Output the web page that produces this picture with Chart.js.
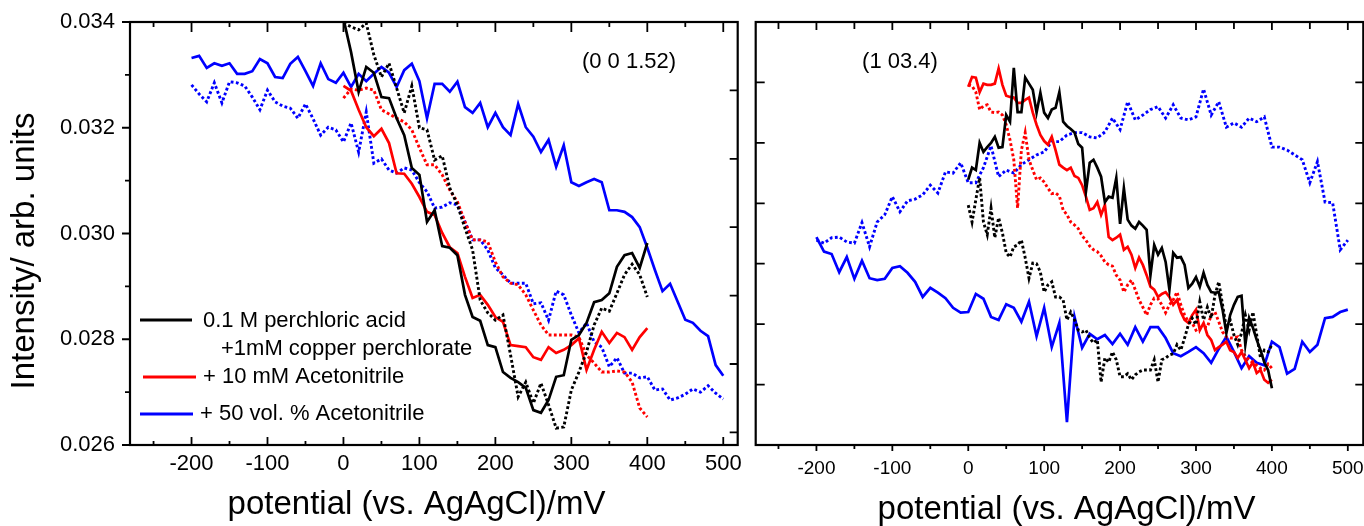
<!DOCTYPE html>
<html>
<head>
<meta charset="utf-8">
<script src="https://cdn.jsdelivr.net/npm/chart.js@4.4.1/dist/chart.umd.min.js"></script>
<style>
html,body{margin:0;padding:0;background:#fff;}
#wrap{position:relative;width:1364px;height:526px;overflow:hidden;background:#fff;}
#wrap canvas{position:absolute;left:0;top:0;}
</style>
</head>
<body>
<div id="wrap">
<canvas id="cl" width="1364" height="526"></canvas>
<canvas id="cr" width="1364" height="526"></canvas>
</div>
<script>
// ---------- categories (potential, mV vs. Ag/AgCl) ----------
const potBlue = [-200,-190,-180,-170,-160,-150,-140,-130,-120,-110,-100,-90,-80,-70,-60,-50,-40,-30,-20,-10,0,10,20,30,40,50,60,70,80,90,100,110,120,130,140,150,160,170,180,190,200,210,220,230,240,250,260,270,280,290,300,310,320,330,340,350,360,370,380,390,400,410,420,430,440,450,460,470,480,490,500];
const potAcid10 = [0,10,20,30,40,50,60,70,80,90,100,110,120,130,140,150,160,170,180,190,200,210,220,230,240,250,260,270,280,290,300,310,320,330,340,350,360,370,380,390,400];
const potAcid5 = [0,5,10,15,20,25,30,35,40,45,50,55,60,65,70,75,80,85,90,95,100,105,110,115,120,125,130,135,140,145,150,155,160,165,170,175,180,185,190,195,200,205,210,215,220,225,230,235,240,245,250,255,260,265,270,275,280,285,290,295,300,305,310,315,320,325,330,335,340,345,350,355,360,365,370,375,380,385,390,395,400];

// ---------- left panel (0 0 1.52) ----------
const L_acidSolid = [0.03406,0.03343,0.03268,0.03315,0.03304,0.03258,0.03256,0.03218,0.03186,0.03124,0.03111,0.03022,0.03044,0.02976,0.02973,0.02959,0.02884,0.02842,0.02835,0.02789,0.02785,0.02738,0.02727,0.02719,0.02708,0.02666,0.02661,0.02685,0.02729,0.02732,0.02799,0.02808,0.02831,0.02870,0.02874,0.02887,0.02937,0.02959,0.02963,0.02935,0.02982];
const L_acidDot = [0.03398,0.03391,0.03385,0.03398,0.03338,0.03296,0.03322,0.03275,0.03228,0.03279,0.03200,0.03196,0.03139,0.03147,0.03086,0.03054,0.03010,0.02969,0.02874,0.02850,0.02836,0.02846,0.02770,0.02691,0.02719,0.02679,0.02717,0.02676,0.02632,0.02634,0.02704,0.02738,0.02776,0.02827,0.02859,0.02853,0.02887,0.02922,0.02942,0.02922,0.02880];
const L_mMSolid = [0.03279,0.03270,0.03234,0.03201,0.03184,0.03198,0.03171,0.03114,0.03113,0.03094,0.03069,0.03041,0.03035,0.03001,0.02974,0.02963,0.02918,0.02878,0.02884,0.02865,0.02842,0.02833,0.02789,0.02787,0.02785,0.02766,0.02761,0.02785,0.02774,0.02780,0.02789,0.02802,0.02742,0.02780,0.02814,0.02793,0.02812,0.02804,0.02780,0.02804,0.02821];
const L_mMDot = [0.03256,0.03273,0.03271,0.03275,0.03271,0.03234,0.03226,0.03218,0.03211,0.03196,0.03162,0.03130,0.03130,0.03111,0.03082,0.03060,0.03022,0.02988,0.02988,0.02984,0.02946,0.02918,0.02906,0.02903,0.02884,0.02855,0.02827,0.02808,0.02808,0.02808,0.02808,0.02804,0.02770,0.02755,0.02738,0.02738,0.02740,0.02738,0.02719,0.02670,0.02653];
const L_volSolid = [0.03332,0.03336,0.03313,0.03322,0.03317,0.03322,0.03302,0.03302,0.03307,0.03330,0.03322,0.03296,0.03294,0.03321,0.03334,0.03307,0.03279,0.03322,0.03292,0.03285,0.03304,0.03277,0.03302,0.03288,0.03302,0.03315,0.03304,0.03277,0.03309,0.03321,0.03288,0.03218,0.03283,0.03283,0.03268,0.03287,0.03239,0.03228,0.03247,0.03201,0.03228,0.03201,0.03186,0.03245,0.03201,0.03183,0.03154,0.03177,0.03126,0.03167,0.03097,0.03090,0.03097,0.03103,0.03097,0.03044,0.03044,0.03041,0.03031,0.03012,0.02973,0.02931,0.02891,0.02905,0.02871,0.02837,0.02831,0.02816,0.02806,0.02751,0.02731];
const L_volDot = [0.03281,0.03264,0.03249,0.03285,0.03247,0.03287,0.03285,0.03279,0.03258,0.03234,0.03271,0.03249,0.03241,0.03237,0.03218,0.03245,0.03217,0.03186,0.03201,0.03196,0.03173,0.03209,0.03154,0.03230,0.03133,0.03141,0.03120,0.03114,0.03124,0.03120,0.03096,0.03079,0.03048,0.03050,0.03058,0.03054,0.03022,0.02988,0.02988,0.02969,0.02935,0.02922,0.02906,0.02906,0.02906,0.02867,0.02869,0.02836,0.02891,0.02884,0.02846,0.02812,0.02831,0.02795,0.02785,0.02748,0.02765,0.02736,0.02736,0.02727,0.02729,0.02704,0.02706,0.02685,0.02689,0.02696,0.02706,0.02700,0.02712,0.02698,0.02687];

// ---------- right panel (1 0 3.4), arbitrary units ----------
const R_acidSolid = [4.39,4.59,4.55,5.00,4.85,4.93,5.00,5.10,4.92,4.93,5.46,5.35,6.24,5.51,5.51,6.08,5.98,5.88,5.50,5.83,5.50,5.41,5.55,5.58,5.84,5.35,5.28,5.23,5.17,4.98,4.92,4.19,4.67,4.72,4.59,4.44,4.02,4.11,4.09,4.42,3.66,4.25,3.73,3.63,3.58,3.69,3.63,3.56,2.81,3.31,3.15,3.26,3.03,2.57,3.18,3.10,3.11,2.98,2.60,2.67,2.78,2.62,2.85,2.65,2.53,2.52,2.53,2.24,1.85,2.15,2.32,2.45,2.47,1.66,2.10,1.94,1.74,1.57,1.37,1.24,0.94];
const R_acidDot = [3.97,3.69,4.06,4.42,3.69,3.48,3.92,3.43,3.76,3.51,3.18,3.11,3.28,3.31,3.39,3.10,2.76,3.01,3.00,2.86,2.53,2.65,2.70,2.45,2.45,2.40,2.07,2.20,2.07,1.90,1.87,1.90,1.77,1.69,1.74,1.04,1.44,1.37,1.54,1.41,1.13,1.13,1.18,1.08,1.16,1.21,1.24,1.24,1.24,1.41,1.04,1.41,1.44,1.49,1.51,1.66,1.57,1.77,1.99,2.10,1.99,2.37,2.07,2.28,2.10,2.48,2.70,2.32,1.94,2.07,1.82,1.66,1.85,2.15,1.90,2.20,1.82,1.44,1.57,1.54,1.66];
const R_mMSolid = [5.93,6.09,6.08,5.84,5.98,5.96,5.96,5.98,6.23,5.96,5.78,5.76,5.75,5.66,5.66,5.71,5.75,5.50,5.30,5.13,5.03,4.97,5.10,4.88,4.64,4.59,4.55,4.59,4.45,4.42,4.30,4.11,3.89,3.92,4.02,3.81,3.97,3.44,3.39,3.43,3.48,3.23,3.28,3.15,2.93,3.10,2.98,2.81,2.62,2.57,2.45,2.50,2.53,2.45,2.32,2.40,2.20,2.07,2.02,2.15,2.24,1.90,2.02,1.82,1.74,1.57,1.62,1.66,1.71,1.57,1.54,1.44,1.54,1.41,1.27,1.37,1.19,1.24,1.08,1.03,1.08];
const R_mMDot = [5.96,5.94,5.84,5.55,5.61,5.63,5.51,5.50,5.51,5.46,5.30,5.05,4.72,3.92,4.88,5.17,4.72,4.55,4.39,4.42,4.35,4.25,4.16,4.17,4.12,3.89,3.81,3.69,3.64,3.58,3.46,3.39,3.29,3.23,3.20,3.13,3.03,2.98,2.96,2.81,2.73,2.53,2.65,2.73,2.57,2.40,2.28,2.15,2.32,2.43,2.42,2.32,2.19,2.32,2.40,2.53,2.32,2.15,2.04,2.02,1.90,1.94,1.95,1.95,2.15,2.20,2.04,1.87,1.79,1.77,1.77,1.79,1.57,1.47,1.41,1.36,1.32,1.27,1.24,1.34,1.27];
const R_volSolid = [3.44,3.20,3.16,2.86,3.11,2.75,3.05,2.76,2.73,2.75,2.93,2.96,2.85,2.70,2.45,2.60,2.52,2.43,2.27,2.19,2.20,2.50,2.42,2.12,2.07,2.33,2.27,2.04,2.37,1.80,2.27,1.62,2.02,0.38,2.12,1.61,1.84,1.75,1.82,1.67,1.84,1.66,1.95,1.71,1.95,1.95,1.77,1.52,1.47,1.54,1.62,1.52,1.36,1.59,1.79,1.54,1.27,1.47,1.36,1.32,1.71,1.62,1.18,1.26,1.71,1.54,1.66,2.10,2.12,2.20,2.24];
const R_volDot = [3.39,3.34,3.43,3.44,3.36,3.34,3.68,3.28,3.69,3.81,4.11,3.86,4.04,4.07,4.14,4.30,4.17,4.52,4.50,4.67,4.34,4.34,4.59,4.95,4.44,4.55,4.50,4.64,4.72,4.80,4.85,5.02,5.02,5.13,5.17,5.17,5.10,5.08,5.18,5.41,5.22,5.68,5.38,5.46,5.55,5.60,5.41,5.63,5.41,5.38,5.43,5.89,5.46,5.68,5.26,5.33,5.26,5.41,5.35,5.43,4.93,4.93,4.88,4.80,4.72,4.34,4.69,4.02,4.01,3.23,3.39];

// ---------- ticks & texts ----------
const xMajor = [-200,-100,0,100,200,300,400,500];
const xMinor = [-250,-150,-50,50,150,250,350,450];
const yMajorL = [0.026,0.028,0.030,0.032,0.034];
const yMinorL = [0.027,0.029,0.031,0.033];
const sideTicks = [1,2,3,4,5,6];
const legendLabels = ['0.1 M perchloric acid','+1mM copper perchlorate','+ 10 mM Acetonitrile','+ 50 vol. % Acetonitrile'];
const xTitle = 'potential (vs. AgAgCl)/mV';
const yTitle = 'Intensity/ arb. units';
const panelLabels = ['(0 0 1.52)','(1 03.4)'];

const FONT = '"Liberation Sans", Arial, Helvetica, sans-serif';
Chart.defaults.font.family = FONT;
Chart.defaults.color = '#000';

const BLACK = '#000000', RED = '#ff0000', BLUE = '#0000ff';
function ds(label, xs, ys, color, dotted) {
  return {
    label: label,
    data: xs.map((x, i) => ({x: x, y: ys[i]})),
    borderColor: color,
    backgroundColor: color,
    borderWidth: dotted ? 2.9 : 2.7,
    borderDash: dotted ? [2.8, 2.4] : [],
    pointRadius: 0,
    pointHoverRadius: 0,
    fill: false,
    tension: 0
  };
}

function framePlugin(spec) {
  return {
    id: 'frame' + spec.name,
    afterDraw(chart) {
      const ctx = chart.ctx, a = chart.chartArea;
      ctx.save();
      ctx.strokeStyle = '#000';
      ctx.lineCap = 'butt';
      ctx.lineWidth = 1.8;
      ctx.beginPath();
      spec.ticks.forEach(t => {
        const sc = chart.scales[t.scale];
        t.values.forEach(v => {
          const p = sc.getPixelForValue(v);
          if (t.side === 'bottom') { ctx.moveTo(p, a.bottom); ctx.lineTo(p, a.bottom + t.len); }
          else if (t.side === 'top') { ctx.moveTo(p, a.top); ctx.lineTo(p, a.top - t.len); }
          else if (t.side === 'left') { ctx.moveTo(a.left, p); ctx.lineTo(a.left - t.len, p); }
          else { ctx.moveTo(a.right, p); ctx.lineTo(a.right + t.len, p); }
        });
      });
      ctx.stroke();
      ctx.lineWidth = 2.2;
      ctx.strokeRect(a.left, a.top, a.right - a.left, a.bottom - a.top);
      ctx.fillStyle = '#000';
      spec.texts.forEach(tx => {
        ctx.save();
        ctx.font = tx.size + 'px ' + FONT;
        ctx.textAlign = tx.align || 'left';
        ctx.textBaseline = 'middle';
        ctx.translate(tx.x, tx.y);
        if (tx.rot) ctx.rotate(tx.rot);
        ctx.fillText(tx.text, 0, 0);
        ctx.restore();
      });
      (spec.swatches || []).forEach(s => {
        ctx.strokeStyle = s.color;
        ctx.lineWidth = 2.8;
        ctx.beginPath();
        ctx.moveTo(s.x1, s.y);
        ctx.lineTo(s.x2, s.y);
        ctx.stroke();
      });
      ctx.restore();
    }
  };
}

const noGrid = {display: false, drawTicks: false, drawOnChartArea: false};
const setTicks = vals => (s => { s.ticks = vals.map(v => ({value: v})); });
const fixH = h => (s => { s.height = h; s.paddingLeft = 0; s.paddingRight = 0; s.paddingTop = 0; s.paddingBottom = 0; });
const fixW = w => (s => { s.width = w; s.paddingLeft = 0; s.paddingRight = 0; s.paddingTop = 0; s.paddingBottom = 0; });

// ---------- left chart ----------
new Chart(document.getElementById('cl'), {
  type: 'line',
  data: {datasets: [
    ds('0.1 M HClO4 + 1 mM Cu(ClO4)2', potAcid10, L_acidSolid, BLACK, false),
    ds('0.1 M HClO4 + 1 mM Cu(ClO4)2 (dotted)', potAcid10, L_acidDot, BLACK, true),
    ds('+ 10 mM Acetonitrile', potAcid10, L_mMSolid, RED, false),
    ds('+ 10 mM Acetonitrile (dotted)', potAcid10, L_mMDot, RED, true),
    ds('+ 50 vol. % Acetonitrile', potBlue, L_volSolid, BLUE, false),
    ds('+ 50 vol. % Acetonitrile (dotted)', potBlue, L_volDot, BLUE, true)
  ]},
  options: {
    responsive: false,
    animation: false,
    events: [],
    layout: {padding: {top: 22, left: 0, right: 0, bottom: 0}, autoPadding: false},
    plugins: {legend: {display: false}, tooltip: {enabled: false}},
    scales: {
      x: {
        type: 'linear', position: 'bottom', min: -281, max: 519,
        afterBuildTicks: setTicks(xMajor),
        afterFit: fixH(81),
        grid: noGrid, border: {display: false},
        ticks: {color: '#000', font: {size: 22}, padding: 6, maxRotation: 0, autoSkip: false, callback: v => String(v)}
      },
      y: {
        type: 'linear', position: 'left', min: 0.026, max: 0.034,
        afterBuildTicks: setTicks(yMajorL),
        afterFit: fixW(130),
        grid: noGrid, border: {display: false},
        ticks: {color: '#000', font: {size: 22}, padding: 15, autoSkip: false, callback: v => Number(v).toFixed(3)}
      },
      y2: {
        type: 'linear', position: 'right', min: 0, max: 6.184, reverse: true,
        afterBuildTicks: setTicks(sideTicks),
        afterFit: fixW(626.3),
        grid: noGrid, border: {display: false},
        ticks: {display: false}
      }
    }
  },
  plugins: [framePlugin({
    name: 'L',
    ticks: [
      {scale: 'x', side: 'bottom', values: xMajor, len: -8},
      {scale: 'x', side: 'bottom', values: xMinor, len: -4},
      {scale: 'x', side: 'top', values: xMajor, len: -10},
      {scale: 'x', side: 'top', values: xMinor, len: -5},
      {scale: 'y', side: 'left', values: yMajorL, len: 8},
      {scale: 'y', side: 'left', values: yMinorL, len: 5},
      {scale: 'y2', side: 'right', values: sideTicks, len: -8}
    ],
    texts: [
      {text: yTitle, x: 24.5, y: 251, size: 33, align: 'center', rot: -Math.PI / 2},
      {text: xTitle, x: 416.5, y: 505.3, size: 33, align: 'center'},
      {text: panelLabels[0], x: 629, y: 62, size: 22, align: 'center'},
      {text: legendLabels[0], x: 203, y: 321, size: 22},
      {text: legendLabels[1], x: 221, y: 349, size: 22},
      {text: legendLabels[2], x: 203, y: 377, size: 22},
      {text: legendLabels[3], x: 200, y: 414, size: 22}
    ],
    swatches: [
      {color: BLACK, x1: 140, x2: 192, y: 320},
      {color: RED, x1: 143, x2: 196, y: 377},
      {color: BLUE, x1: 140, x2: 193, y: 414}
    ]
  })]
});

// ---------- right chart ----------
new Chart(document.getElementById('cr'), {
  type: 'line',
  data: {datasets: [
    ds('0.1 M HClO4 + 1 mM Cu(ClO4)2', potAcid5, R_acidSolid, BLACK, false),
    ds('0.1 M HClO4 + 1 mM Cu(ClO4)2 (dotted)', potAcid5, R_acidDot, BLACK, true),
    ds('+ 10 mM Acetonitrile', potAcid5, R_mMSolid, RED, false),
    ds('+ 10 mM Acetonitrile (dotted)', potAcid5, R_mMDot, RED, true),
    ds('+ 50 vol. % Acetonitrile', potBlue, R_volSolid, BLUE, false),
    ds('+ 50 vol. % Acetonitrile (dotted)', potBlue, R_volDot, BLUE, true)
  ]},
  options: {
    responsive: false,
    animation: false,
    events: [],
    layout: {padding: {top: 22, left: 0, right: 0.7, bottom: 0}, autoPadding: false},
    plugins: {legend: {display: false}, tooltip: {enabled: false}},
    scales: {
      x: {
        type: 'linear', position: 'bottom', min: -280, max: 520.4,
        afterBuildTicks: setTicks(xMajor),
        afterFit: fixH(81),
        grid: noGrid, border: {display: false},
        ticks: {color: '#000', font: {size: 19}, padding: 12, maxRotation: 0, autoSkip: false, callback: v => String(v)}
      },
      y: {
        type: 'linear', position: 'left', min: 0, max: 7,
        afterBuildTicks: setTicks(sideTicks),
        afterFit: fixW(755.7),
        grid: noGrid, border: {display: false},
        ticks: {display: false}
      }
    }
  },
  plugins: [framePlugin({
    name: 'R',
    ticks: [
      {scale: 'x', side: 'bottom', values: xMajor, len: 6},
      {scale: 'x', side: 'bottom', values: xMinor, len: 4},
      {scale: 'x', side: 'top', values: xMajor, len: -8},
      {scale: 'x', side: 'top', values: xMinor, len: -7},
      {scale: 'y', side: 'left', values: sideTicks, len: -9},
      {scale: 'y', side: 'right', values: sideTicks, len: -8}
    ],
    texts: [
      {text: xTitle, x: 1066.5, y: 510.3, size: 33, align: 'center'},
      {text: panelLabels[1], x: 900, y: 62, size: 22, align: 'center'}
    ]
  })]
});
</script>
</body>
</html>
